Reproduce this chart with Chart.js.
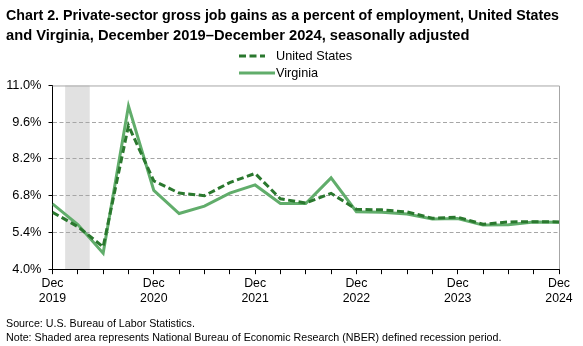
<!DOCTYPE html>
<html>
<head>
<meta charset="utf-8">
<script src="https://cdn.jsdelivr.net/npm/chart.js@4.4.1/dist/chart.umd.min.js"></script>
<style>
  html, body { margin: 0; padding: 0; background: #ffffff; }
  #wrap { width: 583px; height: 346px; }
</style>
</head>
<body>
<div id="wrap"><canvas id="chart" width="583" height="346"></canvas></div>
<script>
// Quarterly gross job gains, percent of private-sector employment
const quarters = ['Dec 2019', 'Mar 2020', 'Jun 2020', 'Sep 2020', 'Dec 2020', 'Mar 2021', 'Jun 2021',
  'Sep 2021', 'Dec 2021', 'Mar 2022', 'Jun 2022', 'Sep 2022', 'Dec 2022', 'Mar 2023', 'Jun 2023',
  'Sep 2023', 'Dec 2023', 'Mar 2024', 'Jun 2024', 'Sep 2024', 'Dec 2024'];
const unitedStates = [6.17, 5.62, 4.85, 9.47, 7.36, 6.90, 6.80, 7.30, 7.65, 6.68, 6.52, 6.89, 6.28,
  6.26, 6.18, 5.94, 5.98, 5.71, 5.80, 5.81, 5.80];
const virginia = [6.49, 5.70, 4.61, 10.22, 7.00, 6.12, 6.40, 6.90, 7.21, 6.50, 6.50, 7.48, 6.19,
  6.17, 6.10, 5.91, 5.93, 5.68, 5.69, 5.80, 5.79];
const yTicks = [4.0, 5.4, 6.8, 8.2, 9.6, 11.0];
// NBER recession, in quarter-index units on the x axis
const recession = { start: 0.5, end: 1.47 };

const seriesNames = ['United States', 'Virginia'];
const seriesColors = ['#2a782e', '#61ad6b'];
const FONT = '"Liberation Sans", Arial, sans-serif';

const toPoints = arr => arr.map((v, i) => ({ x: i, y: v }));

// Recession band, drawn behind the grid
const recessionBand = {
  id: 'recessionBand',
  beforeDraw(chart) {
    const { ctx, chartArea, scales } = chart;
    const x0 = scales.x.getPixelForValue(recession.start);
    const x1 = scales.x.getPixelForValue(recession.end);
    ctx.save();
    ctx.fillStyle = '#e1e1e1';
    ctx.fillRect(x0, chartArea.top, x1 - x0, chartArea.bottom - chartArea.top);
    ctx.restore();
  }
};

// Light frame on the top and right of the plot area
const plotFrame = {
  id: 'plotFrame',
  afterDatasetsDraw(chart) {
    const { ctx, chartArea } = chart;
    ctx.save();
    ctx.strokeStyle = '#a6a6a6';
    ctx.lineWidth = 1;
    ctx.beginPath();
    ctx.moveTo(chartArea.left, chartArea.top + 0.5);
    ctx.lineTo(Math.round(chartArea.right) + 0.5, chartArea.top + 0.5);
    ctx.lineTo(Math.round(chartArea.right) + 0.5, chartArea.bottom);
    ctx.stroke();
    ctx.restore();
  }
};

// Stacked legend between the title and the plot
const stackedLegend = {
  id: 'stackedLegend',
  afterDraw(chart) {
    const { ctx } = chart;
    const rows = [
      { y: 56, x0: 239, x1: 265, textX: 276 },
      { y: 73, x0: 239, x1: 275, textX: 276 }
    ];
    chart.data.datasets.forEach((ds, i) => {
      const r = rows[i];
      ctx.save();
      ctx.strokeStyle = ds.borderColor;
      ctx.lineWidth = ds.borderWidth;
      ctx.setLineDash(ds.borderDash || []);
      ctx.beginPath();
      ctx.moveTo(r.x0, r.y);
      ctx.lineTo(r.x1, r.y);
      ctx.stroke();
      ctx.setLineDash([]);
      ctx.fillStyle = '#000000';
      ctx.font = '12.7px ' + FONT;
      ctx.textBaseline = 'middle';
      ctx.textAlign = 'left';
      ctx.fillText(ds.label, r.textX, r.y);
      ctx.restore();
    });
  }
};

new Chart(document.getElementById('chart'), {
  type: 'line',
  data: {
    datasets: [
      {
        label: seriesNames[0],
        data: toPoints(unitedStates),
        borderColor: seriesColors[0],
        borderWidth: 3,
        borderDash: [7, 3.5],
        pointRadius: 0,
        tension: 0,
        fill: false
      },
      {
        label: seriesNames[1],
        data: toPoints(virginia),
        borderColor: seriesColors[1],
        borderWidth: 3,
        pointRadius: 0,
        tension: 0,
        fill: false
      }
    ]
  },
  options: {
    responsive: false,
    animation: false,
    devicePixelRatio: 1,
    layout: { padding: { left: 6, right: 24, top: 0, bottom: 1 } },
    plugins: {
      legend: { display: false },
      tooltip: { enabled: false },
      title: {
        display: true,
        text: ['Chart 2. Private-sector gross job gains as a percent of employment, United States',
               'and Virginia, December 2019\u2013December 2024, seasonally adjusted'],
        align: 'start',
        color: '#000000',
        font: { family: FONT, size: 14.7, weight: 'bold', lineHeight: 1.36 },
        padding: { top: 6, bottom: 39.5 }
      },
      subtitle: {
        display: true,
        position: 'bottom',
        align: 'start',
        text: ['Source: U.S. Bureau of Labor Statistics.',
               'Note: Shaded area represents National Bureau of Economic Research (NBER) defined recession period.'],
        color: '#000000',
        font: { family: FONT, size: 10.7, lineHeight: 1.3 },
        padding: { top: 9.5, bottom: 0 }
      }
    },
    scales: {
      x: {
        type: 'linear',
        min: 0,
        max: quarters.length - 1,
        ticks: {
          stepSize: 1,
          autoSkip: false,
          maxRotation: 0,
          color: '#000000',
          font: { family: FONT, size: 12.3 },
          padding: 2,
          callback: v => (v % 4 === 0 ? quarters[v].split(' ') : '')
        },
        grid: { drawOnChartArea: false, drawTicks: true, tickLength: 5, tickColor: '#000000' },
        border: { display: true, color: '#000000', width: 1 }
      },
      y: {
        min: yTicks[0],
        max: yTicks[yTicks.length - 1],
        afterBuildTicks: scale => { scale.ticks = yTicks.map(v => ({ value: v })); },
        afterFit: scale => { scale.width = 46.5; },
        ticks: {
          color: '#000000',
          font: { family: FONT, size: 12.8 },
          padding: 7,
          callback: v => v.toFixed(1) + '%'
        },
        grid: {
          color: ctx => (ctx.tick && (ctx.tick.value === yTicks[0] || ctx.tick.value === yTicks[yTicks.length - 1]))
            ? 'rgba(0,0,0,0)' : '#a6a6a6',
          tickColor: '#000000',
          tickLength: 4,
          lineWidth: 1
        },
        border: { display: true, color: '#000000', width: 1, dash: [4, 2.5] }
      }
    }
  },
  plugins: [recessionBand, plotFrame, stackedLegend]
});
</script>
</body>
</html>
